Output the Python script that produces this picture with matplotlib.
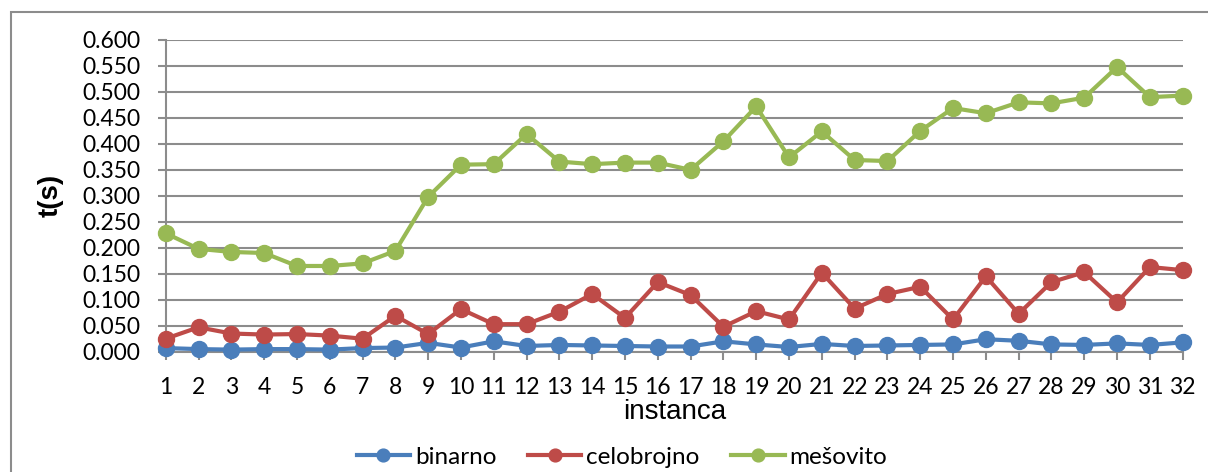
import matplotlib
matplotlib.use("Agg")
import matplotlib.pyplot as plt
from matplotlib.patches import Rectangle

instances = list(range(1, 33))
binarno = [0.007, 0.005, 0.004, 0.005, 0.005, 0.004, 0.007, 0.008, 0.017, 0.008,
           0.020, 0.011, 0.013, 0.012, 0.011, 0.010, 0.010, 0.020, 0.014, 0.009,
           0.015, 0.011, 0.012, 0.013, 0.014, 0.024, 0.021, 0.014, 0.013, 0.016,
           0.013, 0.018]
celobrojno = [0.025, 0.047, 0.035, 0.033, 0.034, 0.031, 0.025, 0.069, 0.034, 0.082,
              0.053, 0.053, 0.077, 0.111, 0.065, 0.134, 0.109, 0.048, 0.078, 0.062,
              0.152, 0.083, 0.111, 0.125, 0.062, 0.145, 0.073, 0.134, 0.153, 0.095,
              0.163, 0.157]
mesovito = [0.228, 0.198, 0.192, 0.190, 0.165, 0.165, 0.170, 0.194, 0.298, 0.360,
            0.361, 0.419, 0.366, 0.361, 0.364, 0.364, 0.350, 0.405, 0.472, 0.374,
            0.424, 0.369, 0.367, 0.425, 0.469, 0.459, 0.480, 0.478, 0.489, 0.548,
            0.490, 0.493]
series_names = ["binarno", "celobrojno", "mešovito"]
colors = ["#4A7EBB", "#BE4B48", "#98B954"]
y_ticks = [i * 0.05 for i in range(13)]

plt.rcParams['font.family'] = ['Lato', 'DejaVu Sans']

W, H = 1208, 472
fig = plt.figure(figsize=(W / 100, H / 100), dpi=100)
fig.patches.append(Rectangle((11 / W, -0.1), 1.2, 1.1 - 12 / H, transform=fig.transFigure,
                             fill=False, edgecolor="#8C8C8C", linewidth=1.5))
left, right, top, bottom = 165.7, 1182.7, 40, 351.7
ax = fig.add_axes([left / W, 1 - bottom / H, (right - left) / W, (bottom - top) / H])

for data, name, c in zip([binarno, celobrojno, mesovito], series_names, colors):
    ax.plot(instances, data, color=c, linewidth=3.0, marker='o', markersize=11.5,
            label=name, zorder=3, solid_joinstyle='round', clip_on=False)

ax.set_xlim(1, 32)
ax.set_ylim(0, 0.6)
ax.set_yticks(y_ticks)
ax.set_yticklabels([f"{v:.3f}" for v in y_ticks], fontsize=16.5)
ax.set_xticks(instances)
ax.set_xticklabels([str(i) for i in instances], fontsize=16.5)
ax.grid(axis='y', color='#8C8C8C', linewidth=1.5)
ax.set_axisbelow(True)
for s in ['top', 'right']:
    ax.spines[s].set_visible(False)
for s in ['left', 'bottom']:
    ax.spines[s].set_color('#8C8C8C')
    ax.spines[s].set_linewidth(1.5)
ax.tick_params(axis='both', color='#8C8C8C', width=1.5, length=6)
ax.tick_params(axis='x', pad=12)
ax.tick_params(axis='y', pad=12)

ax.set_ylabel("t(s)", fontsize=20, fontweight='bold', labelpad=14,
              family=['Liberation Sans', 'DejaVu Sans'])
ax.set_xlabel("instanca", fontsize=20, labelpad=1,
              family=['Liberation Sans Narrow', 'Liberation Sans', 'DejaVu Sans'])

leg = fig.legend(loc='center', bbox_to_anchor=(622 / W, 1 - 457 / H), ncol=3, frameon=False,
                 fontsize=17.5, handlelength=2.2, columnspacing=1.3, handletextpad=0.2,
                 markerscale=0.8)

fig.savefig("out.png", dpi=100)
